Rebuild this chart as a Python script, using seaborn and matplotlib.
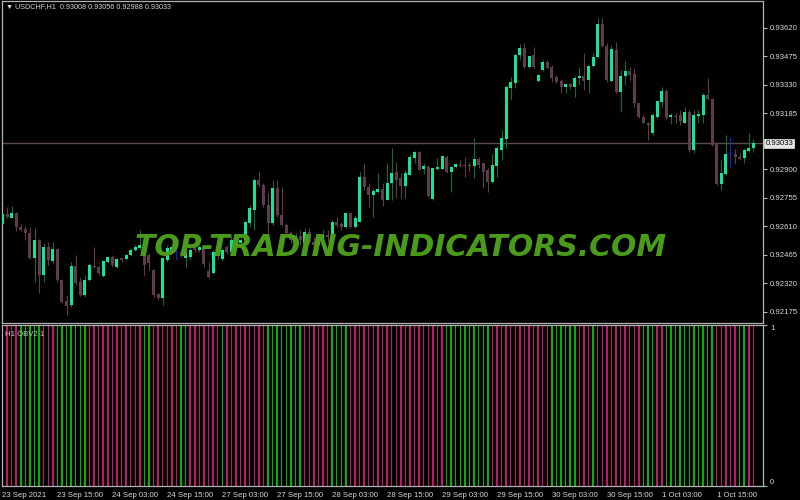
import matplotlib
matplotlib.use("Agg")
import matplotlib.pyplot as plt
import matplotlib.transforms as mtransforms
from matplotlib import font_manager
import numpy as np
import pandas as pd
import seaborn as sns

# USDCHF H1 candles, 23 Sep 2021 03:00 .. 1 Oct 2021 23:00
opens = [
    0.92622, 0.92673, 0.92653, 0.92678, 0.92607, 0.92597, 0.92577, 0.92449, 0.92541, 0.92363,
    0.92506, 0.92434, 0.92495, 0.92337, 0.92230, 0.92210, 0.92409, 0.92327, 0.92261, 0.92337,
    0.92409, 0.92404, 0.92358, 0.92429, 0.92455, 0.92404, 0.92449, 0.92444, 0.92465, 0.92490,
    0.92500, 0.92500, 0.92465, 0.92388, 0.92266, 0.92246, 0.92439, 0.92490, 0.92480, 0.92480,
    0.92449, 0.92455, 0.92516, 0.92490, 0.92495, 0.92383, 0.92373, 0.92500, 0.92444, 0.92506,
    0.92480, 0.92541, 0.92526, 0.92541, 0.92627, 0.92694, 0.92846, 0.92821, 0.92719, 0.92627,
    0.92806, 0.92668, 0.92617, 0.92577, 0.92541, 0.92561, 0.92526, 0.92582, 0.92531, 0.92516,
    0.92531, 0.92566, 0.92556, 0.92632, 0.92622, 0.92607, 0.92678, 0.92607, 0.92632, 0.92862,
    0.92811, 0.92770, 0.92785, 0.92800, 0.92745, 0.92831, 0.92887, 0.92856, 0.92816, 0.92872,
    0.92958, 0.92989, 0.92902, 0.92913, 0.92749, 0.92902, 0.92902, 0.92964, 0.92887, 0.92913,
    0.92923, 0.92923, 0.92923, 0.92918, 0.92953, 0.92933, 0.92897, 0.92836, 0.92918, 0.92999,
    0.93055, 0.93315, 0.93340, 0.93483, 0.93518, 0.93421, 0.93483, 0.93350, 0.93406, 0.93447,
    0.93421, 0.93371, 0.93350, 0.93320, 0.93335, 0.93320, 0.93365, 0.93376, 0.93355, 0.93427,
    0.93472, 0.93640, 0.93528, 0.93350, 0.93508, 0.93294, 0.93376, 0.93401, 0.93386, 0.93238,
    0.93167, 0.93137, 0.93086, 0.93167, 0.93243, 0.93299, 0.93167, 0.93172, 0.93177, 0.93137,
    0.93192, 0.92999, 0.93172, 0.93177, 0.93279, 0.93259, 0.93030, 0.92826, 0.92877, 0.92979,
    0.92979, 0.92964, 0.92958, 0.92994, 0.93008]
highs = [
    0.92719, 0.92709, 0.92714, 0.92683, 0.92622, 0.92612, 0.92607, 0.92602, 0.92546, 0.92526,
    0.92531, 0.92531, 0.92500, 0.92342, 0.92261, 0.92429, 0.92465, 0.92353, 0.92363, 0.92424,
    0.92506, 0.92414, 0.92439, 0.92460, 0.92465, 0.92449, 0.92455, 0.92470, 0.92500, 0.92516,
    0.92592, 0.92516, 0.92475, 0.92393, 0.92271, 0.92455, 0.92516, 0.92521, 0.92516, 0.92490,
    0.92506, 0.92506, 0.92526, 0.92516, 0.92506, 0.92429, 0.92490, 0.92500, 0.92500, 0.92516,
    0.92566, 0.92556, 0.92551, 0.92643, 0.92719, 0.92856, 0.92892, 0.92831, 0.92780, 0.92846,
    0.92846, 0.92811, 0.92627, 0.92587, 0.92577, 0.92592, 0.92602, 0.92602, 0.92556, 0.92566,
    0.92592, 0.92592, 0.92643, 0.92658, 0.92632, 0.92683, 0.92683, 0.92668, 0.92887, 0.92933,
    0.92831, 0.92806, 0.92882, 0.92831, 0.92933, 0.93009, 0.92938, 0.92882, 0.92897, 0.92979,
    0.92994, 0.92994, 0.92933, 0.92923, 0.92907, 0.92958, 0.92974, 0.92974, 0.92918, 0.92933,
    0.92948, 0.92964, 0.92938, 0.93060, 0.92964, 0.92933, 0.92907, 0.92979, 0.93020, 0.93101,
    0.93330, 0.93371, 0.93493, 0.93539, 0.93544, 0.93478, 0.93523, 0.93386, 0.93457, 0.93457,
    0.93432, 0.93381, 0.93360, 0.93340, 0.93340, 0.93376, 0.93421, 0.93493, 0.93432, 0.93493,
    0.93671, 0.93671, 0.93544, 0.93533, 0.93549, 0.93406, 0.93452, 0.93421, 0.93416, 0.93238,
    0.93177, 0.93142, 0.93187, 0.93254, 0.93320, 0.93310, 0.93187, 0.93187, 0.93203, 0.93218,
    0.93203, 0.93203, 0.93203, 0.93289, 0.93365, 0.93264, 0.93035, 0.92948, 0.93075, 0.93065,
    0.93004, 0.92984, 0.93009, 0.93086, 0.93056]
lows = [
    0.92617, 0.92653, 0.92653, 0.92587, 0.92587, 0.92541, 0.92444, 0.92327, 0.92271, 0.92327,
    0.92414, 0.92424, 0.92327, 0.92220, 0.92159, 0.92200, 0.92312, 0.92256, 0.92251, 0.92332,
    0.92398, 0.92363, 0.92353, 0.92424, 0.92404, 0.92398, 0.92429, 0.92439, 0.92460, 0.92485,
    0.92490, 0.92363, 0.92388, 0.92251, 0.92241, 0.92210, 0.92429, 0.92480, 0.92439, 0.92455,
    0.92404, 0.92439, 0.92480, 0.92480, 0.92404, 0.92347, 0.92368, 0.92439, 0.92434, 0.92470,
    0.92475, 0.92511, 0.92516, 0.92541, 0.92607, 0.92592, 0.92811, 0.92709, 0.92577, 0.92617,
    0.92658, 0.92612, 0.92556, 0.92526, 0.92526, 0.92516, 0.92511, 0.92521, 0.92490, 0.92500,
    0.92516, 0.92531, 0.92551, 0.92607, 0.92592, 0.92602, 0.92602, 0.92602, 0.92632, 0.92795,
    0.92709, 0.92658, 0.92780, 0.92714, 0.92745, 0.92745, 0.92754, 0.92749, 0.92754, 0.92872,
    0.92933, 0.92897, 0.92877, 0.92760, 0.92745, 0.92897, 0.92897, 0.92882, 0.92785, 0.92907,
    0.92913, 0.92862, 0.92887, 0.92856, 0.92907, 0.92806, 0.92785, 0.92831, 0.92862, 0.92948,
    0.93009, 0.93254, 0.93315, 0.93457, 0.93416, 0.93416, 0.93416, 0.93345, 0.93401, 0.93411,
    0.93345, 0.93340, 0.93289, 0.93289, 0.93310, 0.93269, 0.93330, 0.93304, 0.93289, 0.93421,
    0.93467, 0.93523, 0.93345, 0.93345, 0.93289, 0.93192, 0.93330, 0.93355, 0.93218, 0.93162,
    0.93137, 0.93050, 0.93075, 0.93162, 0.93218, 0.93157, 0.93131, 0.93137, 0.93126, 0.93137,
    0.92989, 0.92984, 0.93137, 0.93137, 0.93254, 0.93020, 0.92821, 0.92795, 0.92872, 0.92907,
    0.92928, 0.92948, 0.92933, 0.92989, 0.92988]
closes = [
    0.92673, 0.92658, 0.92678, 0.92607, 0.92592, 0.92577, 0.92449, 0.92541, 0.92363, 0.92506,
    0.92439, 0.92495, 0.92337, 0.92225, 0.92205, 0.92409, 0.92322, 0.92261, 0.92337, 0.92414,
    0.92404, 0.92373, 0.92434, 0.92455, 0.92414, 0.92444, 0.92439, 0.92465, 0.92490, 0.92506,
    0.92516, 0.92414, 0.92424, 0.92261, 0.92246, 0.92449, 0.92500, 0.92506, 0.92480, 0.92465,
    0.92475, 0.92490, 0.92490, 0.92506, 0.92419, 0.92353, 0.92480, 0.92465, 0.92490, 0.92480,
    0.92541, 0.92526, 0.92541, 0.92632, 0.92703, 0.92846, 0.92821, 0.92719, 0.92627, 0.92806,
    0.92668, 0.92617, 0.92577, 0.92541, 0.92561, 0.92541, 0.92582, 0.92531, 0.92516, 0.92551,
    0.92566, 0.92556, 0.92632, 0.92617, 0.92607, 0.92678, 0.92607, 0.92653, 0.92862, 0.92811,
    0.92770, 0.92790, 0.92800, 0.92745, 0.92831, 0.92882, 0.92846, 0.92816, 0.92882, 0.92964,
    0.92989, 0.92897, 0.92918, 0.92765, 0.92907, 0.92913, 0.92969, 0.92887, 0.92913, 0.92928,
    0.92918, 0.92918, 0.92918, 0.92953, 0.92923, 0.92887, 0.92836, 0.92923, 0.93009, 0.93060,
    0.93320, 0.93345, 0.93483, 0.93518, 0.93421, 0.93478, 0.93421, 0.93381, 0.93447, 0.93416,
    0.93365, 0.93345, 0.93320, 0.93335, 0.93320, 0.93365, 0.93376, 0.93350, 0.93427, 0.93472,
    0.93640, 0.93528, 0.93355, 0.93513, 0.93294, 0.93376, 0.93401, 0.93381, 0.93238, 0.93167,
    0.93137, 0.93126, 0.93177, 0.93249, 0.93299, 0.93162, 0.93177, 0.93167, 0.93147, 0.93192,
    0.92999, 0.93177, 0.93182, 0.93279, 0.93259, 0.93025, 0.92826, 0.92882, 0.92979, 0.92979,
    0.92964, 0.92953, 0.92999, 0.93009, 0.93033]
doji_bars = [38, 159]

# OBV2 histogram colour per bar: g = up, r = down
obv_dirs = ("rrrr" "ggggg" "rrr" "ggggggg" "rrrrrrrrrrrr" "gg" "rrrrrr" "gg"
            "rrrrrrr" "g" "rrrrrrrrr" "gggggggg" "rrrrrr" "gggg"
            "rrrrrrrrrrrrrrrrrrrrr" "gggggggggg" "rrrrrrrrrrrrr" "gggggg" "rrr" "g"
            "rrrrrrrrrr" "ggg" "rr" "ggggggggggg" "rrrrr" "gg" "rr")

price_ticks = [0.93620, 0.93475, 0.93330, 0.93185, 0.92900, 0.92755,
               0.92610, 0.92465, 0.92320, 0.92175]
last_price = 0.93033
time_label_bars = [0, 12, 24, 36, 48, 60, 72, 84, 96, 108, 120, 132, 144, 156]
time_labels = ["23 Sep 2021", "23 Sep 15:00", "24 Sep 03:00", "24 Sep 15:00",
               "27 Sep 03:00", "27 Sep 15:00", "28 Sep 03:00", "28 Sep 15:00",
               "29 Sep 03:00", "29 Sep 15:00", "30 Sep 03:00", "30 Sep 15:00",
               "1 Oct 03:00", "1 Oct 15:00"]

sns.set_theme(style="dark", rc={
    "figure.facecolor": "black", "axes.facecolor": "black",
    "axes.edgecolor": "#b4b4b4", "axes.grid": False,
    "xtick.color": "#b4b4b4", "ytick.color": "#b4b4b4",
})
names = {f.name for f in font_manager.fontManager.ttflist}
ui_font = "Liberation Sans" if "Liberation Sans" in names else "DejaVu Sans"
wm_font = "Liberation Sans Narrow" if "Liberation Sans Narrow" in names else "DejaVu Sans"
plt.rcParams["font.family"] = [ui_font, "DejaVu Sans"]

BULL = "#14e39a"
BULL_WICK = "#0d6b40"
BEAR = "#5e3c4e"
DOJI = "#1a1ad0"
TXT = "#d8d8d8"

df = pd.DataFrame({"open": opens, "high": highs, "low": lows, "close": closes})
df["bar"] = np.arange(len(df))
df["up"] = df["close"] >= df["open"]

fig = plt.figure(figsize=(8, 5), dpi=100)
ax = fig.add_axes([2 / 800, 177 / 500, 761 / 800, 322 / 500])
ax2 = fig.add_axes([2 / 800, 14 / 500, 761 / 800, 161 / 500])

# --- price panel ---
ax.axhline(last_price, color="#5c4a4a", lw=1.0, zorder=1)
body_col = np.where(df["up"], BULL, BEAR)
wick_col = np.where(df["up"], BULL_WICK, BEAR)
for b in doji_bars:
    body_col[b] = DOJI
    wick_col[b] = DOJI
ax.vlines(df["bar"], df["low"], df["high"], colors=wick_col, lw=0.8, zorder=2)
body_h = np.maximum((df["close"] - df["open"]).abs(), 0.00004)
ax.bar(df["bar"], body_h, bottom=np.minimum(df["open"], df["close"]),
       width=0.65, color=body_col, linewidth=0, zorder=3)

ax.set_xlim(-0.1, 166.1)
ax.set_ylim(0.92118, 0.93757)
ax.set_xticks([])
ax.yaxis.tick_right()
ax.set_yticks(price_ticks)
ax.set_yticklabels([f"{p:.5f}" for p in price_ticks])
ax.tick_params(axis="y", length=3, width=0.8, pad=2, labelsize=5.6, labelcolor=TXT)
for s in ax.spines.values():
    s.set_color("#b4b4b4")
    s.set_linewidth(0.9)

trans = mtransforms.blended_transform_factory(ax.transAxes, ax.transData)
ax.text(1.003, last_price, f"{last_price:.5f}", transform=trans, fontsize=5.6,
        color="black", va="center", ha="left",
        bbox=dict(boxstyle="square,pad=0.15", fc="#e6e6e6", ec="#e6e6e6", lw=0.5))

fig.text(6 / 800, 1 - 7 / 500, "\u25bc USDCHF,H1  0.93008 0.93056 0.92988 0.93033",
         fontsize=5.2, color=TXT, va="center", ha="left",
         family=[ui_font, "DejaVu Sans"])

fig.text(401 / 800, 1 - 248 / 500, "TOP-TRADING-INDICATORS.COM",
         fontsize=27 if wm_font != "DejaVu Sans" else 21.5, fontweight="bold",
         fontstyle="italic", family=[wm_font, "DejaVu Sans"], color="#4b9b1b",
         ha="center", va="center", zorder=10)

# --- OBV2 panel ---
obv = pd.DataFrame({"bar": np.arange(len(obv_dirs)), "val": 1.0, "dir": list(obv_dirs)})
sns.barplot(data=obv, x="bar", y="val", hue="dir", native_scale=True, dodge=False,
            palette={"g": "#00b400", "r": "#c0186c"}, width=0.32, saturation=1,
            legend=False, ax=ax2, linewidth=0)
ax2.set_xlim(-0.1, 166.1)
ax2.set_ylim(0, 1)
ax2.set_xlabel("")
ax2.set_ylabel("")
ax2.yaxis.tick_right()
ax2.set_yticks([0, 1])
ax2.set_yticklabels(["0", "1"])
ax2.tick_params(axis="y", length=3, width=0.8, pad=2, labelsize=5.6, labelcolor=TXT)
ylabels = ax2.get_yticklabels()
ylabels[0].set_va("bottom")
ylabels[1].set_va("top")
ax2.set_xticks(time_label_bars)
ax2.set_xticklabels(time_labels, ha="left")
ax2.tick_params(axis="x", length=3, width=0.8, pad=1, labelsize=5.6, labelcolor=TXT)
for s in ax2.spines.values():
    s.set_color("#b4b4b4")
    s.set_linewidth(0.9)
ax2.text(0.004, 0.96, "H1 OBV2 1", transform=ax2.transAxes, fontsize=5.6,
         color="#c8c8c8", va="top", ha="left")

fig.savefig("out.png", dpi=100, facecolor="black")
